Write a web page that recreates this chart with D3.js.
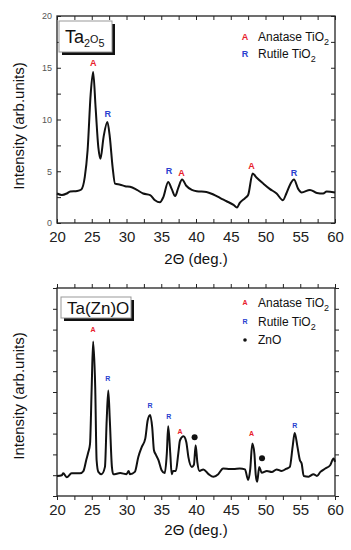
<!DOCTYPE html>
<html><head><meta charset="utf-8">
<script src="https://cdn.jsdelivr.net/npm/d3@7"></script>
<style>body{margin:0;background:#fff}svg{display:block;font-family:"Liberation Sans",Arial,sans-serif}</style>
</head><body><svg id="c" width="351" height="550"></svg>
<script>
// ---- data ----
const xTicks = [20,25,30,35,40,45,50,55,60];
const yTicksTop = [0,5,10,15,20];
// Panel 1: Ta2O5
const taX = [20,20.7,21.4,21.9,22.9,23.5,24.0,24.4,24.85,25.2,25.55,25.95,26.25,26.7,27.25,27.6,28.0,28.35,29.1,29.8,30.5,31.5,32.4,33.4,34.1,34.8,35.3,36.0,36.5,37.0,37.45,38.0,38.6,39.4,40.1,41.5,42.5,43.5,44.4,45.4,45.9,46.3,47.05,47.5,48.15,48.7,49.7,50.6,51.6,52.5,53.0,53.6,54.1,54.7,55.2,56.4,57.4,58.3,58.8,60];
const taY = [2.85,2.7,2.85,3.05,3.1,3.24,4.45,7.0,12.5,14.6,11.2,7.3,6.2,8.3,9.75,8.3,5.4,3.8,3.7,3.55,3.5,3.2,2.85,2.7,2.2,2.0,2.5,3.97,3.3,2.6,3.4,4.2,3.6,3.2,3.07,3.0,2.75,2.4,2.1,1.75,1.5,1.95,2.4,2.7,4.78,4.4,3.8,3.3,2.85,2.2,2.85,3.8,4.2,3.3,2.95,3.2,2.9,2.85,3.05,2.95];
const taLabX = [25.2,27.3,36.1,37.9,48.0,54.1];
const taLabY = [15.5,10.5,5.0,4.8,5.5,4.8];
const taLabT = ["A","R","R","A","A","R"];
// Panel 2: Ta(Zn)O
const znX = [20,20.7,20.9,21.4,22.1,23.3,23.8,24.2,24.5,24.75,24.99,25.2,25.5,25.7,25.95,26.4,26.9,27.15,27.38,27.6,27.9,28.1,29.1,30.0,30.3,30.5,31.2,31.7,32.2,32.7,33.05,33.4,33.7,33.95,34.2,34.6,35.05,35.5,35.8,36.0,36.3,36.5,36.7,37.1,37.45,37.7,38.2,38.6,38.9,39.4,39.7,39.95,40.2,40.5,41.05,41.8,42.5,43.2,43.9,44.9,45.4,46.3,47.05,47.5,47.8,48.1,48.4,48.6,48.8,49.1,49.45,50.2,50.9,51.6,52.3,52.95,53.5,53.9,54.2,54.6,54.95,55.2,55.5,56.2,56.9,57.4,57.9,58.6,59.3,59.8,60];
const znY = [0.96,1.0,1.09,0.9,1.09,1.09,1.2,1.72,2.1,2.5,5.2,7.43,5.2,1.72,1.16,1.05,1.4,3.64,5.07,3.64,1.4,1.04,1.1,1.05,1.2,1.05,1.16,1.88,2.36,2.76,3.64,3.9,3.3,2.2,2.0,1.72,1.24,1.1,2.04,3.35,2.04,1.05,1.2,1.2,2.04,2.68,2.87,2.6,1.88,1.4,1.5,2.44,1.6,1.2,1.28,1.05,0.92,1.05,1.32,1.3,1.3,1.32,1.28,0.77,1.28,2.52,2.04,1.0,0.68,1.4,1.12,1.2,1.15,1.28,1.2,1.3,1.4,2.36,3.03,2.36,1.72,1.56,0.96,0.93,1.05,0.96,1.16,1.32,1.48,1.8,1.64];
const znLabX = [25.2,27.3,33.4,36.1,37.7,48.0,54.2];
const znLabY = [8.0,5.65,4.35,3.83,3.1,3.0,3.4];
const znLabT = ["A","R","R","R","A","A","R"];
const znDotX = [39.8,49.5];
const znDotY = [2.82,1.82];
const yTicksBottom = [0,1,2,3,4,5,6,7,8,9,10];
const legendTop = [["A","Anatase TiO","2"],["R","Rutile TiO","2"]];
const legendBottom = [["A","Anatase TiO","2"],["R","Rutile TiO","2"],["•","ZnO",""]];

const RED = "#e8202a", BLUE = "#2a3fd0";
const svg = d3.select("#c");
const L = 57, R = 335;

function panel(cfg){
  const g = svg.append("g");
  const x = d3.scaleLinear().domain([20,60]).range([L,R]);
  const y = d3.scaleLinear().domain(cfg.yDomain).range([cfg.bottom,cfg.top]);
  const minorX = d3.range(20,60.01,2.5);
  const inward = cfg.inward;
  // frame
  g.append("rect").attr("x",L).attr("y",cfg.top).attr("width",R-L).attr("height",cfg.bottom-cfg.top)
    .attr("fill","none").attr("stroke","#222").attr("stroke-width",1.3);
  // bottom axis
  const xb = g.append("g").attr("transform",`translate(0,${cfg.bottom})`)
    .call(d3.axisBottom(x).tickValues(minorX).tickSize(inward?-4:4).tickFormat(""));
  xb.select(".domain").remove();
  xb.selectAll(".tick line").attr("stroke","#222");
  g.append("g").attr("transform",`translate(0,${cfg.bottom})`)
    .call(d3.axisBottom(x).tickValues(xTicks).tickSize(0).tickPadding(cfg.xLabPad).tickFormat(d3.format("d")))
    .call(a=>{a.select(".domain").remove();a.selectAll("text").attr("font-size",15).attr("fill","#222").attr("font-family","Liberation Sans, Arial");});
  // top axis ticks
  const xt = g.append("g").attr("transform",`translate(0,${cfg.top})`)
    .call(d3.axisTop(x).tickValues(minorX).tickSize(inward?-4:4).tickFormat(""));
  xt.select(".domain").remove();
  xt.selectAll(".tick line").attr("stroke","#222");
  // left axis
  const yl = g.append("g").attr("transform",`translate(${L},0)`)
    .call(d3.axisLeft(y).tickValues(cfg.yMinor).tickSize(inward?-4:4).tickFormat(""));
  yl.select(".domain").remove();
  yl.selectAll(".tick line").attr("stroke","#222");
  if(cfg.yLabels){
    g.append("g").attr("transform",`translate(${L},0)`)
      .call(d3.axisLeft(y).tickValues(cfg.yLabels).tickSize(0).tickPadding(5).tickFormat(d3.format("d")))
      .call(a=>{a.select(".domain").remove();a.selectAll("text").attr("font-size",9).attr("fill","#555").attr("font-family","Liberation Sans, Arial");});
  }
  const yr = g.append("g").attr("transform",`translate(${R},0)`)
    .call(d3.axisRight(y).tickValues(cfg.yMinor).tickSize(inward?-4:4).tickFormat(""));
  yr.select(".domain").remove();
  yr.selectAll(".tick line").attr("stroke","#222");
  // axis titles
  g.append("text").attr("x",x(40)).attr("y",cfg.xTitleY).attr("text-anchor","middle")
    .attr("font-size",15).attr("fill","#111").text("2Θ (deg.)");
  g.append("text").attr("transform",`translate(24,${cfg.yTitleC}) rotate(-90)`).attr("text-anchor","middle")
    .attr("font-size",15).attr("fill","#111").text("Intensity (arb.units)");
  // line
  const line = d3.line().x((d,i)=>x(cfg.xs[i])).y((d,i)=>y(cfg.ys[i])).curve(d3.curveMonotoneX);
  g.append("path").datum(cfg.xs).attr("d",line).attr("fill","none").attr("stroke","#111").attr("stroke-width",2).attr("stroke-linejoin","round");
  // peak labels
  g.selectAll(".pl").data(cfg.labT).join("text")
    .attr("x",(d,i)=>x(cfg.labX[i])).attr("y",(d,i)=>y(cfg.labY[i])).attr("dy","0.35em")
    .attr("text-anchor","middle").attr("font-size",cfg.labSize).attr("font-weight","bold")
    .attr("fill",d=>d==="A"?RED:BLUE).text(d=>d);
  if(cfg.dotX){
    g.selectAll(".dt").data(cfg.dotX).join("circle")
      .attr("cx",d=>x(d)).attr("cy",(d,i)=>y(cfg.dotY[i])).attr("r",3).attr("fill","#111");
  }
  // title box
  const b = cfg.box;
  g.append("rect").attr("x",b.x+3).attr("y",b.y+3).attr("width",b.w).attr("height",b.h).attr("fill","#111");
  g.append("rect").attr("x",b.x).attr("y",b.y).attr("width",b.w).attr("height",b.h).attr("fill","#fff").attr("stroke","#999").attr("stroke-width",1);
  const tt = g.append("text").attr("x",b.x+6).attr("y",b.y+b.h/2+6).attr("font-size",b.fs).attr("fill","#111");
  b.parts.forEach(p=>{
    const ts = tt.append("tspan").text(p[0]);
    if(p[1]) ts.attr("font-size",b.fs*0.6).attr("dy",p[1]);
  });
  // legend
  cfg.legend.forEach((d,i)=>{
    const yy = cfg.legY + i*cfg.legStep;
    if(d[0]==="•"){
      g.append("circle").attr("cx",245).attr("cy",yy).attr("r",1.8).attr("fill","#111");
    } else {
      g.append("text").attr("x",245).attr("y",yy).attr("dy","0.35em").attr("text-anchor","middle")
        .attr("font-size",cfg.legMark).attr("font-weight","bold").attr("fill",d[0]==="A"?RED:BLUE).text(d[0]);
    }
    const t = g.append("text").attr("x",258).attr("y",yy).attr("dy","0.35em").attr("font-size",12).attr("fill","#111");
    t.append("tspan").text(d[1]);
    if(d[2]) t.append("tspan").attr("font-size",9).attr("dy",4).text(d[2]);
  });
}

panel({top:16,bottom:223,yDomain:[0,20],yMinor:d3.range(0,20.01,2.5),yLabels:yTicksTop,inward:true,xLabPad:8,
  xTitleY:264,yTitleC:126,xs:taX,ys:taY,labX:taLabX,labY:taLabY,labT:taLabT,labSize:9,
  box:{x:59,y:21,w:53,h:31,fs:18,parts:[["Ta"],["2","4"],["O","-4"],["5","4"]]},
  legend:legendTop,legY:37,legStep:17,legMark:9});
panel({top:288,bottom:496,yDomain:[0,10],yMinor:yTicksBottom,yLabels:null,inward:false,xLabPad:8,
  xTitleY:535,yTitleC:396,xs:znX,ys:znY,labX:znLabX,labY:znLabY,labT:znLabT,labSize:7,
  dotX:znDotX,dotY:znDotY,
  box:{x:61,y:297,w:70,h:21,fs:17,parts:[["Ta(Zn)O"]]},
  legend:legendBottom,legY:303,legStep:18.5,legMark:7});
</script></body></html>
